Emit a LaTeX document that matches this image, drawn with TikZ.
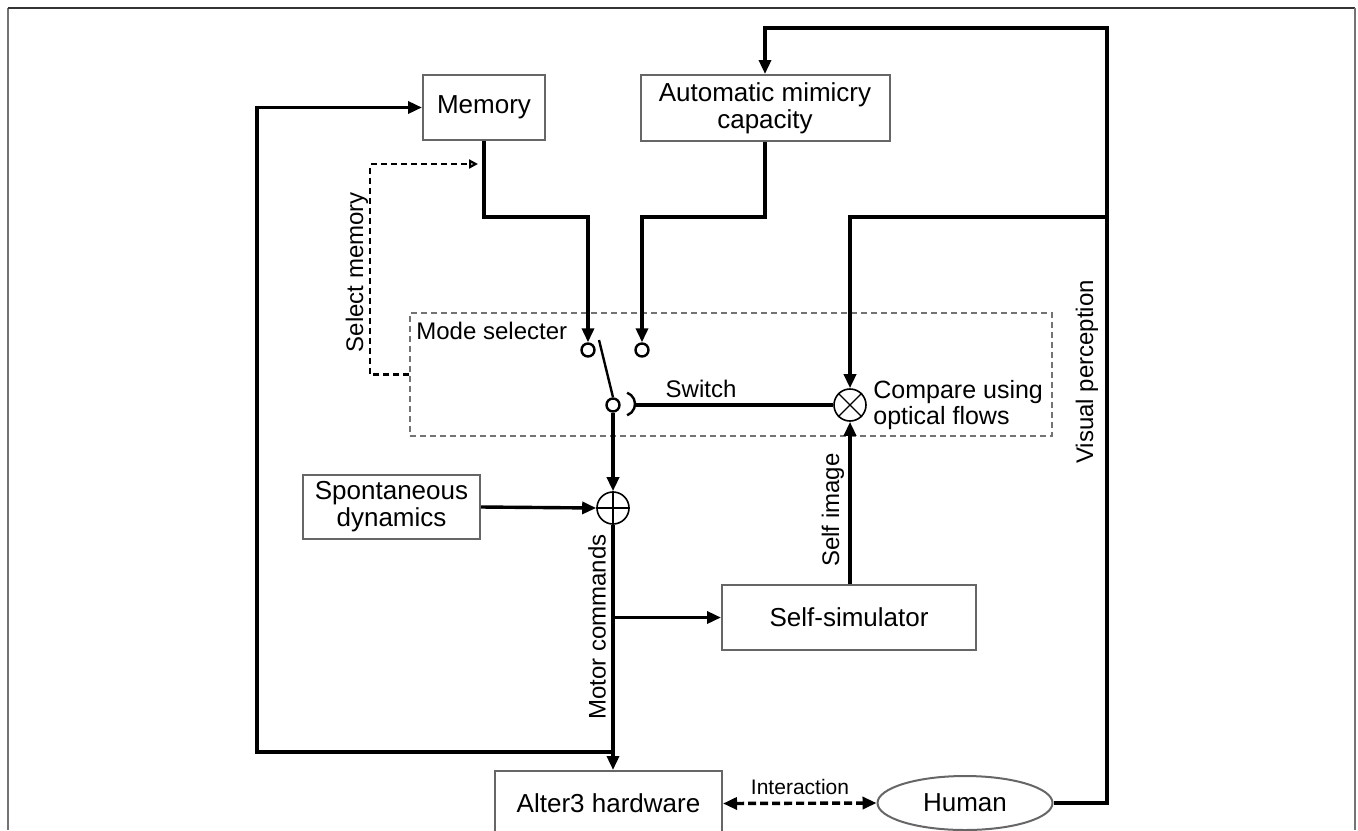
\documentclass[tikz,border=0pt]{standalone}
\usepackage{fontspec}
\setmainfont{Liberation Sans}
\usetikzlibrary{arrows.meta,shapes.geometric,calc}
\begin{document}
\begin{tikzpicture}[x=0.5pt,y=-0.5pt,
  box/.style={draw=black!60, line width=1pt, inner sep=0pt, font=\fontsize{13}{13.5}\selectfont, align=center},
  arr/.style={line width=1.7pt, -{Triangle[length=7pt,width=6pt]}},
  ln/.style={line width=1.7pt},
  lbl/.style={font=\fontsize{12}{14}\selectfont, inner sep=0pt},
  contact/.style={circle, draw, line width=1.2pt, minimum size=6.5pt, inner sep=0pt},
  sumnode/.style={circle, draw, line width=0.8pt, minimum size=16pt, inner sep=0pt},
]
\useasboundingbox (0,0) rectangle (1358,830);
\clip (0,0) rectangle (1358,830);
\draw[black!55, line width=1pt] (8,830) -- (8,8);
\draw[black!80, line width=0.9pt] (8,8) -- (1355,8);
\draw[black!55, line width=1pt] (1355,8) -- (1355,830);

% boxes
\node[box, minimum width=61pt, minimum height=32.5pt] (mem) at (484,107.5) {Memory};
\node[box, minimum width=124.5pt, minimum height=33pt] (auto) at (765,108) {Automatic mimicry\\capacity};
\node[box, minimum width=88.5pt, minimum height=32pt] (spont) at (391.5,507) {Spontaneous\\dynamics};
\node[box, minimum width=127pt, minimum height=32.5pt] (sim) at (849,617.5) {Self-simulator};
\node[box, minimum width=113.5pt, minimum height=32.5pt] (alter) at (608.5,803.5) {Alter3 hardware};
\node[box, ellipse, minimum width=87.5pt, minimum height=27pt] (human) at (965,803) {Human};

% mode selecter box
\node[draw=black!55, dash pattern=on 3pt off 2pt, line width=0.7pt, minimum width=321pt, minimum height=61.5pt, inner sep=0pt] (mode) at (731,374.5) {};
\node[lbl, anchor=west] at (416,331) {Mode selecter};

% switch contacts
\node[contact] (c1) at (588,350) {};
\node[contact] (c2) at (642,350) {};
\node[contact] (piv) at (613,405) {};
\coordinate (lev) at (599,340);
\draw[line width=1.2pt] (piv.north) -- (lev);
\draw[line width=1.2pt] ($(623,404)+(-70:12)$) arc[start angle=-70, end angle=70, radius=12];
\coordinate (sw) at (635,405);

% junctions
\node[sumnode] (cmp) at (850,405) {};
\node[sumnode] (add) at (613,508) {};
\draw[line width=0.6pt] (cmp.45) -- (cmp.225) (cmp.135) -- (cmp.315);
\draw[line width=0.6pt] (add.north) -- (add.south) (add.west) -- (add.east);

% coordinates
\coordinate (jm) at (588,217);
\coordinate (ja) at (642,217);
\coordinate (tr) at (1107,28);
\coordinate (jr) at (1107,217);
\coordinate (jb) at (613,617.5);
\coordinate (jl) at (613,752);
\coordinate (ll) at (257,752);
\coordinate (sm) at (478,164);

% connectors
\draw[arr] (mem.south) |- (jm) -- (c1.north);
\draw[arr] (auto.south) |- (ja) -- (c2.north);
\draw[arr] (human.east) -| (tr) -| (auto.north);
\draw[arr] (jr) -| (cmp.north);
\draw[ln] (sw) -- (cmp.west);
\node[lbl] at (701,389) {Switch};
\draw[arr] (piv.south) -- (add.north);
\draw[arr] (spont.east) -- (add.west);
\draw[arr] (add.south) -- (add.south |- alter.north);
\draw[arr] (jb) -- (sim.west);
\draw[arr] (sim.north -| cmp.south) -- (cmp.south);
\draw[arr] (jl) -- (ll) |- (mem.west);
\draw[dash pattern=on 3pt off 2pt, line width=1.1pt, -{Triangle[open,length=4.5pt,width=4.5pt]}] (mode.west) -- ++(-39,0) |- (sm);
\draw[line width=1.7pt, dash pattern=on 4pt off 2pt, {Triangle[length=7pt,width=6pt]}-{Triangle[length=7pt,width=6pt]}] (alter.east) -- (human.west);

% labels
\node[lbl, rotate=90] at (357,272) {Select memory};
\node[lbl, rotate=90] at (597,627) {Motor commands};
\node[lbl, rotate=90] at (833,510) {Self image};
\node[lbl, rotate=90] at (1087,372) {Visual perception};
\node[lbl, anchor=west, align=left, font=\fontsize{12.5}{13}\selectfont] at (873,405) {Compare using\\optical flows};
\node[font=\fontsize{10.5}{12}\selectfont, inner sep=0pt] at (800,787) {Interaction};
\end{tikzpicture}
\end{document}
